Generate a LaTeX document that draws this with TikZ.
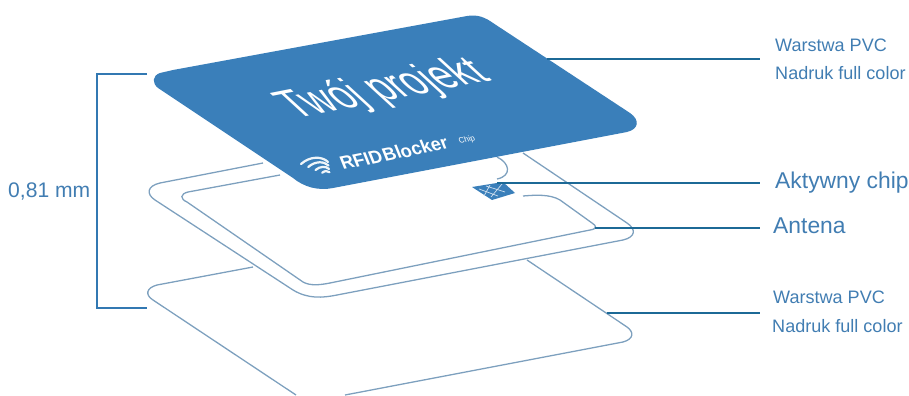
\documentclass[tikz,border=0pt]{standalone}
\usepackage{fontspec}
\setmainfont{Liberation Sans}
\usepackage{tikz}
\usetikzlibrary{positioning}
\definecolor{cardblue}{RGB}{58, 127, 186}
\definecolor{leadblue}{RGB}{28, 105, 150}
\definecolor{bracketblue}{RGB}{50, 120, 178}
\definecolor{edgeblue}{RGB}{125, 160, 190}
\definecolor{textblue}{RGB}{65, 125, 178}
\tikzset{
  layeredge/.style={edgeblue, line width=1.1pt},
  leader/.style={leadblue, line width=1.6pt},
  smalllabel/.style={textblue, font=\fontsize{15.4}{18}\selectfont, anchor=base west, inner sep=0pt},
  biglabel/.style={textblue, font=\fontsize{19.5}{22}\selectfont, anchor=base west, inner sep=0pt},
  cardtext/.style={white, inner sep=0pt}
}

\begin{document}
\begin{tikzpicture}[x=0.03cm, y=-0.03cm]
    \useasboundingbox (0,0) rectangle (909,395);
    \clip (0,0) rectangle (909,395);
    % bottom layer
    \draw[layeredge] (527,260) -- (627,327) .. controls (634,332) and (634,339) .. (623,342)
      -- (345,395);
    \draw[layeredge] (296,395) -- (153,300) .. controls (145,295) and (146,288) .. (157,285) -- (253,267);
    % middle layer, outer line
    \draw[layeredge] (523,153) -- (627,223) .. controls (636,229) and (636,237) .. (623,240)
      -- (337,295) .. controls (322,298) and (308,299) .. (293,290) -- (155,200)
      .. controls (146,194) and (147,186) .. (160,183) -- (263,163);
    % middle layer, inner line
    \draw[layeredge] (280,175) -- (188,192) .. controls (180,194) and (180,199) .. (187,202)
      -- (303,282) .. controls (310,286) and (320,285) .. (330,283) -- (590,230)
      .. controls (597,229) and (597,226) .. (592,223) -- (560,200)
      .. controls (550,194) and (535,195) .. (523,196);
    \draw[layeredge] (497,157) .. controls (510,163) and (512,176) .. (497,179);
    % chip
    \fill[cardblue] (472,187) -- (503,182) -- (515,193) -- (492,200) -- cycle;
    \draw[white!75!cardblue, line width=0.6pt] (479,189) -- (498,196) (486,186) -- (505,192)
      (490,185) -- (484,196) (502,184) -- (491,197);
    % top card
    \fill[cardblue] (173,70) -- (467,16) .. controls (478,14) and (486,18) .. (493,23)
      -- (630,113) .. controls (640,120) and (639,129) .. (627,132)
      -- (333,188) .. controls (318,191) and (304,187) .. (293,178)
      -- (158,88) .. controls (152,83) and (152,76) .. (160,73) -- cycle;
    \node[cardtext, font=\fontsize{28}{28}\selectfont, cm={1.12,0.22,-1.2,1.1,(0,0)}] (title) at (384,90) {Twój projekt};
    \node[cardtext, font=\fontsize{15}{15}\selectfont\bfseries, cm={1,0.2,-0.4,1,(0,0)}] (brand) at (394,153) {RFID\kern1pt Blocker};
    \node[cardtext, font=\fontsize{6.5}{6.5}\selectfont, cm={1,0.2,-0.4,1,(0,0)}] (brandchip) at (467,140) {Chip};
    \foreach \s in {1,0.75,0.5,0.27} {
      \draw[white!92!cardblue, line width=1.9pt, line cap=round] ({330-29*\s},{176-12*\s})
        .. controls ({330-20*\s},{176-20*\s}) and ({330-8*\s},{176-20*\s}) .. ({330-2*\s},{176-14*\s});
    }
    % labels
    \node[smalllabel] (toplabel) at (775,52) {Warstwa PVC};
    \node[smalllabel] (topprint) at (775,79) {Nadruk full color};
    \node[biglabel] (chiplabel) at (775,188) {Aktywny chip};
    \node[biglabel] (antlabel) at (773,233) {Antena};
    \node[smalllabel] (bottomlabel) at (773,303) {Warstwa PVC};
    \node[smalllabel] (bottomprint) at (772,332) {Nadruk full color};
    \coordinate (topstart) at (547,59);
    \coordinate (topend) at (760,59);
    \coordinate (chipstart) at (497,183);
    \coordinate (chipend) at (760,183);
    \coordinate (antstart) at (595,228);
    \coordinate (antend) at (760,228);
    \coordinate (bottomstart) at (607,313);
    \coordinate (bottomend) at (760,313);
    \draw[leader] (topstart) -- (topend);
    \draw[leader] (chipstart) -- (chipend);
    \draw[leader] (antstart) -- (antend);
    \draw[leader] (bottomstart) -- (bottomend);
    % height bracket
    \node[textblue, font=\fontsize{18}{18}\selectfont, anchor=base west, inner sep=0pt] (height) at (8,197) {0,81 mm};
    \coordinate (brtop) at (147,74);
    \coordinate (brbot) at (147,308);
    \draw[bracketblue, line width=1.6pt] (brtop) -- (97,74) -- (97,308) -- (brbot);
  \end{tikzpicture}
\end{document}
